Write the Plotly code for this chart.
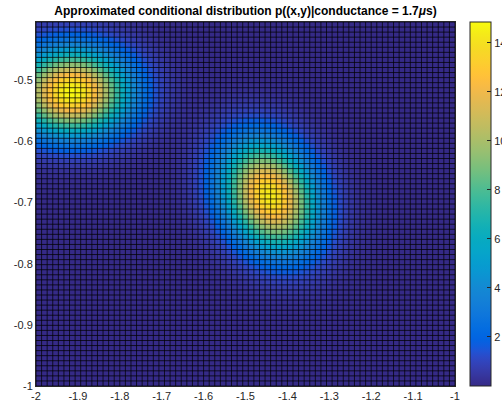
import numpy as np
import plotly.graph_objects as go

# ---- data ----
x_range = [-2.0, -1.0]
y_range = [-1.0, -0.405]
n_cells_x = 75
n_cells_y = 72

# Gaussian bumps of the approximated conditional density
blob_cx = [-1.915, -1.442]
blob_cy = [-0.520, -0.690]
blob_sx = [0.092, 0.076]
blob_sy = [0.047, 0.060]
blob_rho = [0.0, -0.22]
blob_peak = [14.85, 14.40]

x_ticks = [-2.0, -1.9, -1.8, -1.7, -1.6, -1.5, -1.4, -1.3, -1.2, -1.1, -1.0]
x_ticklabels = ["-2", "-1.9", "-1.8", "-1.7", "-1.6", "-1.5", "-1.4", "-1.3", "-1.2", "-1.1", "-1"]
y_ticks = [-1.0, -0.9, -0.8, -0.7, -0.6, -0.5]
y_ticklabels = ["-1", "-0.9", "-0.8", "-0.7", "-0.6", "-0.5"]
cbar_ticks = [2, 4, 6, 8, 10, 12, 14]

# ---- grid ----
xe = np.linspace(x_range[0], x_range[1], n_cells_x + 1)
ye = np.linspace(y_range[0], y_range[1], n_cells_y + 1)
xc = 0.5 * (xe[:-1] + xe[1:])
yc = 0.5 * (ye[:-1] + ye[1:])
X, Y = np.meshgrid(xc, yc)
Z = np.zeros_like(X)
for cx, cy, sx, sy, r, pk in zip(blob_cx, blob_cy, blob_sx, blob_sy, blob_rho, blob_peak):
    dx = (X - cx) / sx
    dy = (Y - cy) / sy
    q = (dx**2 - 2 * r * dx * dy + dy**2) / (1 - r**2)
    Z += pk * np.exp(-0.5 * q)

parula = [
    [0.2081, 0.1663, 0.5292], [0.2116, 0.1898, 0.5777], [0.2123, 0.2138, 0.6270], [0.2081, 0.2386, 0.6771],
    [0.1959, 0.2645, 0.7279], [0.1707, 0.2919, 0.7792], [0.1253, 0.3242, 0.8303], [0.0591, 0.3598, 0.8683],
    [0.0117, 0.3875, 0.8820], [0.0060, 0.4086, 0.8828], [0.0165, 0.4266, 0.8786], [0.0329, 0.4430, 0.8720],
    [0.0498, 0.4586, 0.8641], [0.0629, 0.4737, 0.8554], [0.0723, 0.4887, 0.8467], [0.0779, 0.5040, 0.8384],
    [0.0793, 0.5200, 0.8312], [0.0749, 0.5375, 0.8263], [0.0641, 0.5570, 0.8240], [0.0488, 0.5772, 0.8228],
    [0.0343, 0.5966, 0.8199], [0.0265, 0.6137, 0.8135], [0.0239, 0.6287, 0.8038], [0.0231, 0.6418, 0.7913],
    [0.0228, 0.6535, 0.7768], [0.0267, 0.6642, 0.7607], [0.0384, 0.6743, 0.7436], [0.0590, 0.6838, 0.7254],
    [0.0843, 0.6928, 0.7062], [0.1133, 0.7015, 0.6859], [0.1453, 0.7098, 0.6646], [0.1801, 0.7177, 0.6424],
    [0.2178, 0.7250, 0.6193], [0.2586, 0.7317, 0.5954], [0.3022, 0.7376, 0.5712], [0.3482, 0.7424, 0.5473],
    [0.3953, 0.7459, 0.5244], [0.4420, 0.7481, 0.5033], [0.4871, 0.7491, 0.4840], [0.5300, 0.7491, 0.4661],
    [0.5709, 0.7485, 0.4494], [0.6099, 0.7473, 0.4337], [0.6473, 0.7456, 0.4188], [0.6834, 0.7435, 0.4044],
    [0.7184, 0.7411, 0.3905], [0.7525, 0.7384, 0.3768], [0.7858, 0.7356, 0.3633], [0.8185, 0.7327, 0.3498],
    [0.8507, 0.7299, 0.3360], [0.8824, 0.7274, 0.3217], [0.9139, 0.7258, 0.3063], [0.9450, 0.7261, 0.2886],
    [0.9739, 0.7314, 0.2666], [0.9938, 0.7455, 0.2403], [0.9990, 0.7653, 0.2164], [0.9955, 0.7861, 0.1967],
    [0.9880, 0.8066, 0.1794], [0.9789, 0.8271, 0.1633], [0.9697, 0.8481, 0.1475], [0.9626, 0.8705, 0.1309],
    [0.9589, 0.8949, 0.1132], [0.9598, 0.9218, 0.0948], [0.9661, 0.9514, 0.0755], [0.9763, 0.9831, 0.0538],
]
n = len(parula)
colorscale = [[i / (n - 1), "rgb(%d,%d,%d)" % tuple(round(255 * c) for c in rgb)] for i, rgb in enumerate(parula)]

fig = go.Figure()
fig.add_trace(go.Heatmap(
    x=xe, y=ye, z=Z, zmin=0, zmax=14.85, colorscale=colorscale, zsmooth=False,
    hoverinfo="skip",
    colorbar=dict(
        x=1.0358, xanchor="left", xref="paper", y=0.5, yanchor="middle", len=1.0, lenmode="fraction",
        thickness=21, thicknessmode="pixels", xpad=0, ypad=0,
        outlinewidth=1, outlinecolor="#262626",
        tickvals=cbar_ticks, ticks="inside", ticklen=4, tickcolor="#262626",
        tickfont=dict(family="Liberation Sans, Arial, sans-serif", size=11, color="#262626"),
    ),
))

# cell edge lines (faceted surface look)
gx, gy = [], []
for xv in xe:
    gx += [xv, xv, None]
    gy += [ye[0], ye[-1], None]
for yv in ye:
    gx += [xe[0], xe[-1], None]
    gy += [yv, yv, None]
fig.add_trace(go.Scatter(x=gx, y=gy, mode="lines", line=dict(color="rgba(0,0,0,0.72)", width=1),
                         hoverinfo="skip", showlegend=False))

font = dict(family="Liberation Sans, Arial, sans-serif", size=11, color="#262626")
fig.update_layout(
    width=502, height=406,
    margin=dict(l=36, r=47, t=22, b=20, autoexpand=False),
    paper_bgcolor="white", plot_bgcolor="white",
    showlegend=False,
    title=dict(text="<b>Approximated conditional distribution p((x,y)|conductance = 1.7<i>μ</i>s)</b>",
               x=(36 + 455) / 2 / 502, xanchor="center", y=1 - 11 / 406, yanchor="middle",
               font=dict(family="Liberation Sans, Arial, sans-serif", size=12, color="black")),
    xaxis=dict(range=x_range, tickvals=x_ticks, ticktext=x_ticklabels, showgrid=False, zeroline=False,
               showline=True, linecolor="#262626", linewidth=1, mirror=True, ticks="", tickfont=font),
    yaxis=dict(range=y_range, tickvals=y_ticks, ticktext=y_ticklabels, showgrid=False, zeroline=False,
               showline=True, linecolor="#262626", linewidth=1, mirror=True, ticks="", tickfont=font),
)

fig.write_html("out.html")
